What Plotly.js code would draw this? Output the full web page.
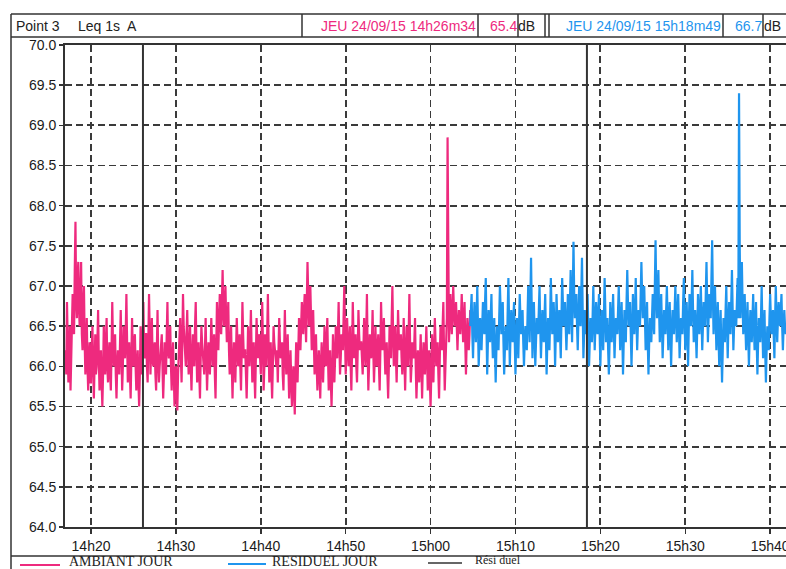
<!DOCTYPE html>
<html><head><meta charset="utf-8">
<script src="https://cdn.plot.ly/plotly-3.0.1.min.js"></script>
<style>html,body{margin:0;padding:0;background:#fff;overflow:hidden}#chart{width:786px;height:569px}</style>
</head><body><div id="chart"></div>
<script>
// ---- data ----
const dayDate = "2015-09-24";
const ambiantStart = "14:17:00";
const residuelStart = "15:04:40";
const stepSeconds = 5;

const ambiantJour = [
66.2,65.9,66.8,66.3,65.8,66.1,66.5,65.7,66.0,66.4,66.9,66.5,66.4,67.2,67.8,66.8,66.6,67.1,67.3,66.7,
66.5,66.9,67.3,66.4,66.2,66.8,67.0,66.3,65.9,66.2,66.6,66.0,65.7,66.1,66.3,65.8,65.8,66.2,66.5,66.0,
65.6,66.0,66.4,65.9,66.0,66.3,66.7,66.1,65.7,66.0,66.2,65.8,65.5,65.9,66.5,66.2,65.9,66.3,66.6,66.0,
65.8,66.1,66.3,65.9,65.7,66.2,66.8,66.3,66.0,66.1,66.4,65.9,65.6,66.0,66.2,66.1,65.9,66.3,66.7,66.2,
65.7,66.0,66.5,66.2,66.1,66.4,66.9,66.3,65.8,66.0,66.3,65.9,65.6,66.1,66.6,66.2,66.0,66.3,66.4,66.0,
65.7,66.0,66.2,65.8,65.5,65.9,66.5,66.1,65.9,66.3,66.8,66.2,66.1,66.4,66.4,66.0,65.8,66.3,66.9,66.4,
65.9,66.2,66.6,66.1,66.0,66.2,66.3,65.9,65.7,66.2,66.7,66.1,65.8,66.0,66.2,66.3,66.4,66.0,65.6,65.9,
66.3,66.0,65.9,66.4,66.8,66.2,66.1,66.3,66.5,66.0,65.7,66.1,66.3,65.9,65.5,65.8,66.0,65.7,65.45,65.9,
66.2,66.4,66.6,66.1,65.8,66.3,66.9,66.5,66.3,66.1,66.0,66.4,66.7,66.2,65.9,66.2,66.5,66.0,65.7,66.1,
66.4,66.1,66.0,66.5,66.8,66.2,65.8,66.0,66.3,65.9,65.6,66.1,66.5,66.3,66.1,66.0,65.9,66.2,66.6,66.1,
65.7,66.0,66.3,66.1,65.9,66.2,66.6,66.3,66.0,66.2,66.4,65.9,65.6,66.2,66.8,66.4,66.2,66.6,66.9,66.5,
66.4,66.8,67.2,66.7,66.5,66.8,67.0,66.6,66.3,66.5,66.8,66.2,65.9,66.2,66.5,66.0,65.6,66.0,66.3,66.1,
65.8,66.2,66.6,66.3,66.0,66.2,66.4,66.0,65.7,66.2,66.8,66.4,66.1,66.2,66.2,65.9,65.6,66.0,66.5,66.2,
66.0,66.3,66.7,66.2,65.8,66.0,66.3,65.9,65.6,66.1,66.6,66.3,66.1,66.3,66.4,66.1,65.9,66.3,66.8,66.3,
65.7,66.0,66.4,66.2,66.0,66.4,66.9,66.3,65.8,66.0,66.3,65.9,65.6,66.0,66.5,66.3,66.2,66.1,66.0,66.2,
65.8,66.2,66.6,66.3,66.1,66.2,66.3,65.9,65.7,66.2,66.7,66.2,65.9,66.1,66.4,66.0,65.6,65.9,66.2,65.8,
65.5,65.8,66.0,65.7,65.4,65.9,66.3,66.0,65.8,66.2,66.6,66.4,66.2,66.5,66.8,66.6,66.4,66.7,66.9,66.6,
66.3,66.8,67.3,66.9,66.5,66.8,67.0,66.6,66.2,66.4,66.7,66.3,65.9,66.1,66.4,66.0,65.7,65.9,66.2,66.0,
65.6,66.0,66.3,66.0,65.8,66.1,66.5,66.2,66.0,66.3,66.6,66.1,65.7,66.0,66.2,65.8,65.5,65.9,66.4,66.1,
65.8,66.1,66.5,66.2,66.1,66.4,66.8,66.3,65.9,66.1,66.4,66.3,66.2,66.6,67.0,66.4,65.9,66.2,66.6,66.3,
66.0,66.2,66.5,66.0,65.7,66.2,66.8,66.4,66.1,66.3,66.4,66.0,65.8,66.2,66.7,66.4,66.2,66.3,66.3,66.1,
65.9,66.2,66.6,66.3,66.0,66.4,66.9,66.2,65.7,66.0,66.4,66.2,66.1,66.3,66.7,66.2,65.8,66.1,66.5,66.2,
66.0,66.2,66.4,66.0,65.7,66.2,66.8,66.4,66.2,66.4,66.6,66.2,65.9,66.1,66.3,65.9,65.6,66.0,66.5,66.3,
66.1,66.6,67.0,66.4,66.0,66.3,66.5,66.1,65.8,66.2,66.7,66.4,66.2,66.3,66.4,66.1,65.9,66.2,66.6,66.1,
65.7,66.1,66.5,66.2,66.0,66.4,66.9,66.3,65.8,66.0,66.3,66.2,66.1,66.3,66.6,66.0,65.6,65.9,66.2,66.0,
65.8,66.1,66.4,66.0,65.6,66.0,66.3,66.1,65.9,66.2,66.5,66.1,65.7,66.0,66.2,65.8,65.5,65.9,66.4,66.1,
65.8,66.2,66.6,66.3,66.0,66.2,66.3,65.9,65.6,66.1,66.5,66.3,66.2,66.5,66.8,66.2,65.7,66.0,66.4,66.6,
68.85,67.2,66.3,66.6,66.9,66.6,66.4,66.7,67.0,66.7,66.5,66.6,66.8,66.5,66.2,66.5,66.7,66.5,66.4,66.6,
66.9,66.6,66.3,66.5,66.8,66.3,65.9,66.3,66.6,66.4,66.2,66.4,66.7
];

const residuelJour = [
66.5,66.7,66.9,66.4,66.1,66.5,66.8,66.6,66.3,66.6,67.0,66.5,66.0,66.3,66.6,66.4,66.2,66.5,66.8,66.5,
66.4,66.8,67.1,66.5,65.9,66.3,66.7,66.5,66.3,66.6,66.9,66.4,66.1,66.4,66.6,66.2,65.8,66.2,66.5,66.3,
66.2,66.6,67.0,66.7,66.4,66.6,66.8,66.3,65.9,66.2,66.5,66.4,66.2,66.7,67.1,66.5,66.0,66.4,66.7,66.5,
66.3,66.6,66.8,66.3,65.9,66.3,66.6,66.4,66.1,66.5,66.9,66.6,66.4,66.6,66.7,66.3,66.0,66.3,66.5,66.4,
66.2,66.6,67.0,66.6,66.3,66.8,67.35,66.7,66.1,66.5,66.8,66.4,66.0,66.3,66.6,66.5,66.4,66.7,67.0,66.5,
66.1,66.4,66.7,66.5,66.3,66.6,66.9,66.4,65.9,66.3,66.6,66.4,66.2,66.6,67.1,66.7,66.4,66.6,66.8,66.5,
66.0,66.4,66.9,66.6,66.3,66.5,66.7,66.4,66.1,66.6,67.1,66.8,66.5,66.7,66.8,66.5,66.2,66.5,66.9,66.6,
66.4,66.8,67.2,66.7,66.3,66.9,67.55,66.9,66.6,66.8,66.9,66.5,66.2,66.6,67.0,66.7,66.5,66.9,67.35,66.7,
66.1,66.4,66.7,66.5,66.4,66.6,66.9,66.4,66.0,66.3,66.6,66.4,66.3,66.6,67.0,66.6,66.2,66.5,66.8,66.6,
66.4,66.6,66.9,66.4,66.0,66.4,66.7,66.5,66.2,66.6,67.1,66.7,66.3,66.5,66.6,66.2,65.9,66.3,66.8,66.5,
66.3,66.6,66.9,66.5,66.1,66.4,66.6,66.5,66.4,66.7,67.0,66.6,66.2,66.5,66.8,66.4,65.9,66.3,66.7,66.5,
66.3,66.8,67.2,66.8,66.5,66.7,66.8,66.4,66.0,66.4,66.9,66.6,66.4,66.7,67.1,66.6,66.2,66.5,66.7,66.6,
66.5,66.9,67.3,66.9,66.6,66.8,67.0,66.6,66.2,66.5,66.8,66.3,65.9,66.3,66.6,66.4,66.3,66.6,66.9,66.6,
66.4,67.0,67.57,66.9,66.6,66.9,67.2,66.7,66.3,66.6,66.9,66.5,66.1,66.4,66.7,66.5,66.4,66.7,67.0,66.6,
66.2,66.5,66.8,66.4,66.0,66.4,66.7,66.5,66.4,66.7,67.0,66.6,66.3,66.6,66.9,66.5,66.1,66.4,66.6,66.5,
66.4,66.8,67.1,66.6,66.2,66.5,66.8,66.4,66.0,66.5,66.9,66.7,66.5,66.8,67.2,66.7,66.3,66.5,66.7,66.4,
66.1,66.5,66.9,66.6,66.4,66.7,67.0,66.6,66.2,66.5,66.8,66.6,66.5,66.9,67.3,66.8,66.3,66.6,66.9,66.7,
66.6,67.1,67.57,66.9,66.4,66.7,67.0,66.6,66.2,66.5,66.8,66.4,66.0,66.4,66.7,66.2,65.8,66.2,66.6,66.5,
66.3,66.7,67.0,66.5,66.1,66.5,66.8,66.6,66.4,66.8,67.2,66.7,66.2,66.5,66.7,66.6,66.5,66.8,67.1,66.6,
69.4,67.5,66.6,67.0,67.3,66.8,66.4,66.7,66.9,66.5,66.2,66.5,66.8,66.4,66.0,66.4,66.7,66.5,66.3,66.6,
66.9,66.5,66.2,66.5,66.8,66.3,65.9,66.3,66.6,66.5,66.3,66.6,67.0,66.5,66.1,66.4,66.7,66.2,65.8,66.2,
66.5,66.3,66.2,66.6,66.9,66.6,66.4,66.6,66.7,66.4,66.1,66.6,67.0,66.6,66.3,66.6,66.8,66.6,66.5,66.7,
66.9,66.5,66.2,66.5,66.7,66.5,66.4
];

const cursorTimes = ["14:26:07", "15:18:25"];
const cursorLevels = ["65.4", "66.7"];
const cursorLabels = ["JEU 24/09/15 14h26m34", "JEU 24/09/15 15h18m49"];

const tickTimes = ["14:20:00","14:30:00","14:40:00","14:50:00","15:00:00","15:10:00","15:20:00","15:30:00","15:40:00"];
const tickLabels = ["14h20","14h30","14h40","14h50","15h00","15h10","15h20","15h30","15h40"];
const xRange = ["14:16:56", "15:41:52"];
const yRange = [64.0, 70.0];
const yTickStep = 0.5;

const seriesNames = ["AMBIANT JOUR", "RESIDUEL JOUR", "Rési duel"];

// ---- helpers ----
function pad(n){return (n<10?"0":"")+n;}
function toSec(t){const p=t.split(":").map(Number);return p[0]*3600+p[1]*60+p[2];}
function fmt(sec){return dayDate+" "+pad(Math.floor(sec/3600))+":"+pad(Math.floor(sec%3600/60))+":"+pad(sec%60);}
function timeline(start, n){const s=toSec(start);const out=[];for(let i=0;i<n;i++)out.push(fmt(s+i*stepSeconds));return out;}
function full(t){return dayDate+" "+t;}

// page geometry (pixels) -> paper coords
const W=786,H=569,L=65,R=0,T=45,B=42;
const PW=W-L-R, PH=H-T-B;
const px=x=>(x-L)/PW;
const py=y=>(H-B-y)/PH;

const PINK="#EE2A7E", BLUE="#1F95EE", INK="#333333", GRID="#3a3a3a";
const SANS="Liberation Sans, Arial, sans-serif", SERIF="Liberation Serif, Times New Roman, serif";

const traces=[
  {x:timeline(ambiantStart, ambiantJour.length), y:ambiantJour, type:"scatter", mode:"lines",
   name:seriesNames[0], line:{color:PINK,width:2.2}, showlegend:false},
  {x:timeline(residuelStart, residuelJour.length), y:residuelJour, type:"scatter", mode:"lines",
   name:seriesNames[1], line:{color:BLUE,width:2.2}, showlegend:false},
  {x:[full(cursorTimes[0]),full(cursorTimes[0]),null,full(cursorTimes[1]),full(cursorTimes[1])],
   y:[yRange[0],yRange[1],null,yRange[0],yRange[1]], type:"scatter", mode:"lines",
   name:seriesNames[2], line:{color:INK,width:2}, showlegend:false}
];

const line=(x0,y0,x1,y1,c,w)=>({type:"line",xref:"paper",yref:"paper",x0:px(x0),y0:py(y0),x1:px(x1),y1:py(y1),line:{color:c||INK,width:w||1.5}});

const shapes=[
  line(11,14,11,569),           // outer left
  line(11,14,786,14),           // header top
  line(11,37,786,37),           // header bottom
  line(302,14,302,37), line(478,14,478,37), line(518,14,518,37), line(545,14,545,37),
  line(549,14,549,37), line(723,14,723,37), line(763,14,763,37),
  line(11,556,786,556),         // below tick labels
  line(20,565,60,565,PINK,2),
  line(228,564,266,564,BLUE,2),
  line(428,563,462,563,INK,1.5)
];

const ann=(x,y,text,opt)=>Object.assign({xref:"paper",yref:"paper",x:px(x),y:py(y),text:text,showarrow:false,
  xanchor:"left",yanchor:"middle",font:{family:SANS,size:14,color:"#222"}},opt||{});

const annotations=[
  ann(14,26,"Point 3"),
  ann(76,26,"Leq 1s  A"),
  ann(478,26,cursorLabels[0],{xanchor:"right",font:{family:SANS,size:14,color:PINK}}),
  ann(519,26,cursorLevels[0],{xanchor:"right",font:{family:SANS,size:14,color:PINK}}),
  ann(516,26,"dB"),
  ann(723,26,cursorLabels[1],{xanchor:"right",font:{family:SANS,size:14,color:BLUE}}),
  ann(764,26,cursorLevels[1],{xanchor:"right",font:{family:SANS,size:14,color:BLUE}}),
  ann(762,26,"dB"),
  ann(67,561.5,seriesNames[0],{font:{family:SERIF,size:14,color:"#222"}}),
  ann(270,561.5,seriesNames[1],{font:{family:SERIF,size:14,color:"#222"}}),
  ann(473,560,seriesNames[2],{font:{family:SERIF,size:12,color:"#222"}})
];

const layout={
  width:W,height:H,margin:{l:L,r:R,t:T,b:B,pad:0},
  paper_bgcolor:"#fff",plot_bgcolor:"#fff",showlegend:false,
  xaxis:{type:"date",range:[full(xRange[0]),full(xRange[1])],
    tickvals:tickTimes.map(full),ticktext:tickLabels,ticklabeloverflow:"allow",
    showgrid:true,gridcolor:GRID,gridwidth:1.8,griddash:"7px,4px",
    showline:true,linecolor:INK,linewidth:2,mirror:true,
    ticks:"outside",ticklen:5,tickcolor:INK,tickwidth:1.5,
    tickfont:{family:SANS,size:14,color:"#1a1a1a"},zeroline:false},
  yaxis:{range:yRange,dtick:yTickStep,tick0:yRange[0],tickformat:".1f",
    showgrid:true,gridcolor:GRID,gridwidth:1.8,griddash:"7px,4px",
    showline:true,linecolor:INK,linewidth:2,
    ticks:"outside",ticklen:4,tickcolor:INK,tickwidth:1.5,
    tickfont:{family:SANS,size:14,color:"#1a1a1a"},zeroline:false},
  shapes:shapes,annotations:annotations
};

Plotly.newPlot("chart",traces,layout,{staticPlot:true,displayModeBar:false});
</script></body></html>
